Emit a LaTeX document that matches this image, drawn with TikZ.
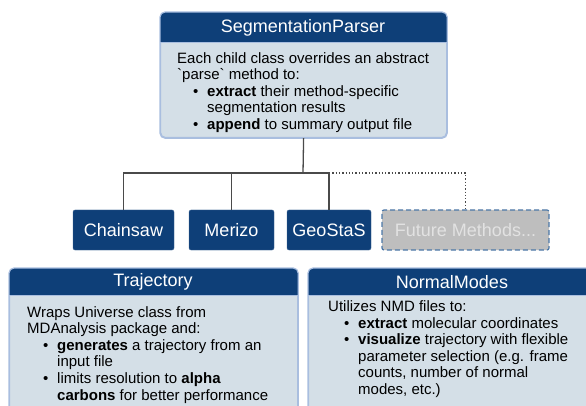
\documentclass[tikz,border=0pt]{standalone}
\usepackage{fontspec}
\setmainfont{Liberation Sans}
\usetikzlibrary{positioning}
\definecolor{hdblue}{HTML}{0E3F78}
\definecolor{bodyfill}{HTML}{D4DFE7}
\definecolor{edgeblue}{HTML}{A9BEDF}
\definecolor{linegrey}{HTML}{4A4A4A}
\definecolor{futfill}{HTML}{BEBEBE}
\definecolor{futtext}{HTML}{E2E2E2}
\definecolor{futedge}{HTML}{4C78A8}
\def\bul{\hspace*{16pt}\makebox[14pt][l]{\textbullet}}
\def\ind{\hspace*{30pt}}

\begin{document}
\begin{tikzpicture}[x=1pt, y=-1pt,
  classbox/.style={draw=edgeblue, line width=1.2pt, fill=bodyfill, rounded corners=5pt, anchor=north west, inner sep=0pt},
  headtext/.style={text=white, font=\fontsize{18}{20}\selectfont, inner sep=0pt},
  bodytext/.style={align=left, font=\fontsize{15}{16.6}\selectfont, inner sep=0pt, anchor=north west},
  method/.style={fill=hdblue, draw=hdblue!80!white, rounded corners=2pt, text=white, font=\fontsize{18}{20}\selectfont, minimum height=40pt, inner sep=0pt},
  future/.style={method, fill=futfill, draw=futedge, text=futtext, line width=1.2pt, dash pattern=on 5pt off 3pt},
  conn/.style={draw=linegrey, line width=1.3pt}]

  % --- Page frame ---
  \useasboundingbox (0,0) rectangle (586,406);
  \clip (0,0) rectangle (586,406);

  % --- Class boxes ---
  \node[classbox, minimum width=286pt, minimum height=125pt] (segbox) at (160,12) {};
  \node[classbox, minimum width=288pt, minimum height=160pt] (trajbox) at (9,268) {};
  \node[classbox, minimum width=300pt, minimum height=160pt] (nmbox) at (308,268) {};

  % --- Dark header strips ---
  \foreach \b/\h in {segbox/31, trajbox/27, nmbox/27} {
    \begin{scope}
      \clip[rounded corners=5pt] (\b.north west) rectangle (\b.south east);
      \fill[hdblue] (\b.north west) rectangle ([yshift=-\h pt]\b.north east);
    \end{scope}
    \draw[edgeblue, line width=1.2pt, rounded corners=5pt] (\b.north west) rectangle (\b.south east);
    \draw[edgeblue, line width=1pt] ([yshift=-\h pt]\b.north west) -- ([yshift=-\h pt]\b.north east);
  }

  % --- Header titles ---
  \node[headtext] (seghead) at (303,28) {SegmentationParser};
  \node[headtext] (trajhead) at (153,282) {Trajectory};
  \node[headtext] (nmhead) at (452,282) {NormalModes};

  % --- Body texts ---
  \node[bodytext] (segtext) at (177,52) {Each child class overrides an abstract\\
    \textasciigrave parse\textasciigrave{} method to:\\
    \bul\textbf{extract} their method-specific\\
    \ind segmentation results\\
    \bul\textbf{append} to summary output file};
  \node[bodytext] (trajtext) at (27,306) {Wraps Universe class from\\
    MDAnalysis package and:\\
    \bul\textbf{generates} a trajectory from an\\
    \ind input file\\
    \bul limits resolution to \textbf{alpha}\\
    \ind\textbf{carbons} for better performance};
  \node[bodytext] (nmtext) at (328,300.5) {Utilizes NMD files to:\\
    \bul\textbf{extract} molecular coordinates\\
    \bul\textbf{visualize} trajectory with flexible\\
    \ind parameter selection (e.g. frame\\
    \ind counts, number of normal\\
    \ind modes, etc.)};

  % --- Method subclasses ---
  \node[method, minimum width=101pt] (chainsaw) at (123.5,230) {Chainsaw};
  \node[method, minimum width=85pt] (merizo) at (231.5,230) {Merizo};
  \node[method, minimum width=84pt] (geostas) at (329,230) {GeoStaS};
  \node[future, minimum width=167pt] (future) at (465.5,230) {Future Methods...};

  % --- Inheritance tree ---
  \coordinate (bus) at (303,173);
  \draw[conn] (segbox.south) -- (bus);
  \foreach \m in {chainsaw, merizo, geostas}
    \draw[conn] (bus) -| (\m.north);
  \draw[conn, dotted] (geostas.north |- bus) -| (future.north);

\end{tikzpicture}
\end{document}
